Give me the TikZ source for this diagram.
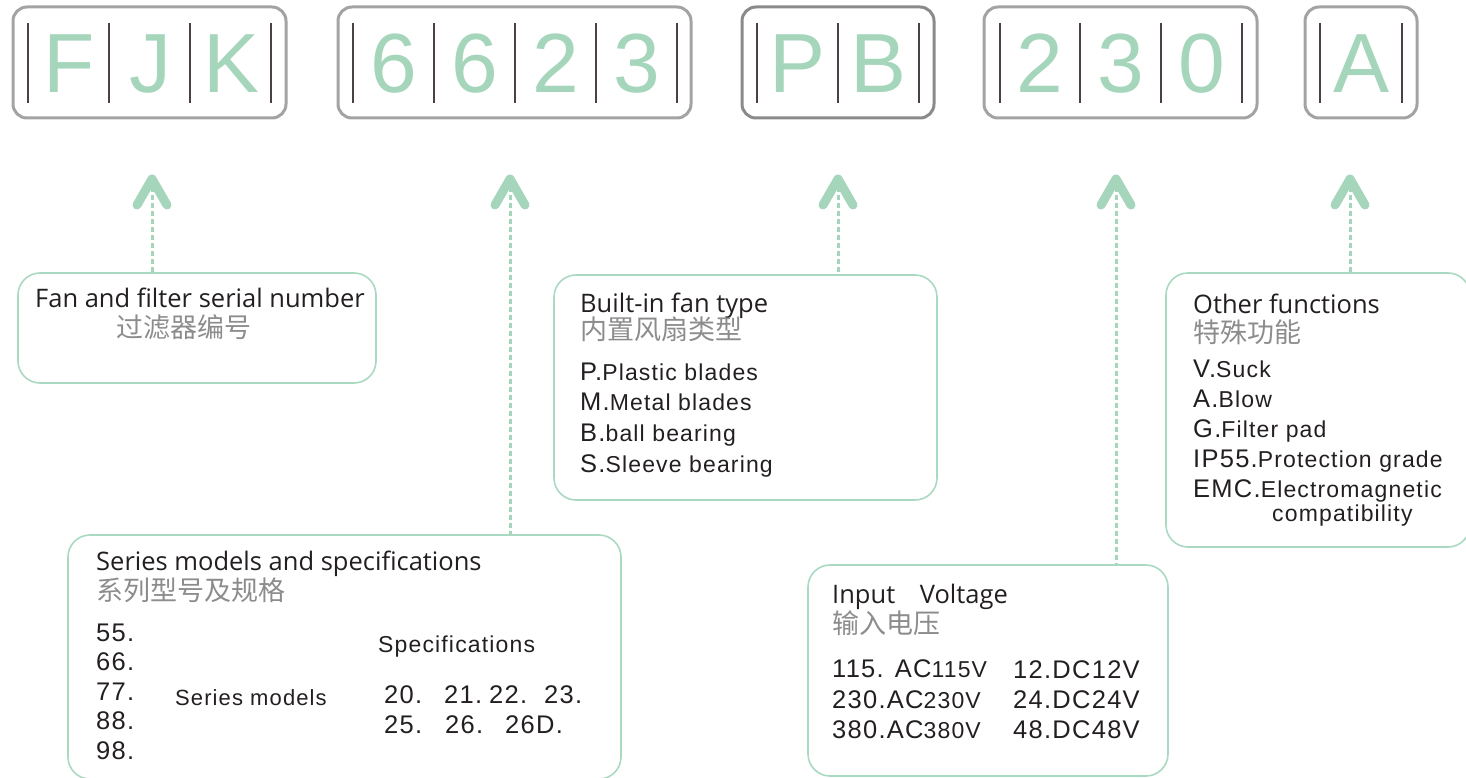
\documentclass[tikz,border=0pt]{standalone}
\usepackage{fontspec}
\setmainfont{Liberation Sans}
\newfontfamily\headfont{Open Sans}
\newfontfamily\cjkfont{Noto Sans CJK SC}
\newfontfamily\itemfont[LetterSpace=5]{Liberation Sans}
\definecolor{codegreen}{HTML}{A5D6BB}
\definecolor{linegreen}{HTML}{A9D9C1}
\definecolor{boxgray}{HTML}{A3A3A3}
\definecolor{boxdark}{HTML}{8A8A8A}
\definecolor{bardark}{HTML}{4A4242}
\definecolor{textdark}{HTML}{231F20}
\definecolor{cjkgray}{HTML}{8C8C8C}
% big code letter + smaller explanation
\newcommand\itm[2]{{\fontsize{25.5}{28}\selectfont #1}{\fontsize{23}{28}\selectfont #2}}

\begin{document}
\begin{tikzpicture}[x=1pt, y=-1pt,
    codebox/.style={draw=boxgray, line width=3pt, rounded corners=14pt},
    divider/.style={draw=bardark, line width=1.3pt},
    codechar/.style={text=codegreen, font=\fontsize{84}{84}\selectfont, inner sep=0pt, anchor=base},
    pointer/.style={draw=codegreen, line width=9pt, line cap=round, line join=round},
    leader/.style={draw=codegreen, line width=3pt, dash pattern=on 5pt off 3pt},
    infobox/.style={draw=linegreen, line width=1.6pt, rounded corners=22pt, inner sep=0pt},
    head/.style={font=\headfont\fontsize{25.5}{28}\selectfont, text=textdark, anchor=base west, inner sep=0pt},
    cn/.style={font=\cjkfont\fontsize{27}{30}\selectfont, text=cjkgray, anchor=base west, inner sep=0pt},
    item/.style={font=\itemfont, text=textdark, anchor=base west, inner sep=0pt}]

    \useasboundingbox (0,0) rectangle (1466,778);

    % =================================================================
    % PART 1: CODE BOXES  FJK | 6623 | PB | 230 | A
    % =================================================================
    % Outer frames
    \foreach \xl/\xr in {13/286, 338/691, 984/1257, 1305/1417} {
        \draw[codebox] (\xl,7) rectangle (\xr,118);
    }
    \draw[codebox, draw=boxdark] (742,7) rectangle (934,118);

    % Vertical bars inside the frames
    \foreach \x in {28,109,190,271, 353,434,515,596,677, 757,838,919, 1000,1080,1161,1242, 1320,1402} {
        \draw[divider] (\x,23) -- (\x,103);
    }

    % Code characters
    \foreach \c/\x [count=\k] in {F/69.5, J/150.5, K/231.5, 6/393.5, 6/474.5, 2/555.5, 3/636.5,
                                  P/797.5, B/878.5, 2/1040, 3/1120.5, 0/1201.5, A/1361} {
        \node[codechar] (code\k) at (\x,93) {\c};
    }

    % =================================================================
    % PART 2: POINTERS (chevron + dashed leader)
    % =================================================================
    \coordinate (tipFJK) at (152,179);
    \coordinate (tipSize) at (510,179);
    \coordinate (tipFan) at (838,179);
    \coordinate (tipVolt) at (1116,179);
    \coordinate (tipFunc) at (1350,179);

    \foreach \t in {tipFJK, tipSize, tipFan, tipVolt, tipFunc} {
        \draw[pointer] ([shift={(-15,26)}]\t) -- (\t) -- ([shift={(15,26)}]\t);
    }

    % =================================================================
    % PART 3: EXPLANATION BOXES
    % =================================================================
    \node[infobox, minimum width=358, minimum height=110] (serialbox) at (197,328) {};
    \node[infobox, minimum width=383, minimum height=225] (fanbox) at (745.5,387.5) {};
    \node[infobox, minimum width=304, minimum height=274] (funcbox) at (1318,410) {};
    \node[infobox, minimum width=553, minimum height=244] (seriesbox) at (344.5,657) {};
    \node[infobox, minimum width=360, minimum height=211] (voltbox) at (988,670.5) {};

    % Dashed leaders from the chevrons down to the boxes
    \draw[leader] (tipFJK) -- (tipFJK |- serialbox.north);
    \draw[leader] (tipSize) -- (tipSize |- seriesbox.north);
    \draw[leader] (tipFan) -- (tipFan |- fanbox.north);
    \draw[leader] (tipVolt) -- (tipVolt |- voltbox.north);
    \draw[leader] (tipFunc) -- (tipFunc |- funcbox.north);

    % Serial number
    \node[head] (serialhead) at (35,307) {Fan and filter serial number};
    \node[cn] (serialcn) at (116,337) {过滤器编号};

    % Built-in fan type
    \node[head] (fanhead) at (580,312) {Built-in fan type};
    \node[cn] (fancn) at (580,339) {内置风扇类型};
    \foreach \a/\b [count=\k] in {P./Plastic blades, M./Metal blades, B./ball bearing, S./Sleeve bearing} {
        \node[item] (fanitem\k) at (580,{380+30.7*(\k-1)}) {\itm{\a}{\b}};
    }

    % Other functions
    \node[head] (funchead) at (1193,313) {Other functions};
    \node[cn] (funccn) at (1193,342) {特殊功能};
    \foreach \a/\b [count=\k] in {V./Suck, A./Blow, G./Filter pad, IP55./Protection grade, EMC./Electromagnetic} {
        \node[item] (funcitem\k) at (1193,{377+30*(\k-1)}) {\itm{\a}{\b}};
    }
    \node[item, font=\itemfont\fontsize{23}{28}\selectfont] (funcitem6) at (1272,521) {compatibility};

    % Series models and specifications
    \node[head] (serieshead) at (96,570) {Series models and specifications};
    \node[cn] (seriescn) at (96,600) {系列型号及规格};
    \foreach \n [count=\k] in {55,66,77,88,98} {
        \node[item, font=\itemfont\fontsize{25.5}{28}\selectfont] (model\n) at (96,{641+29.5*(\k-1)}) {\n.};
    }
    \node[item, font=\itemfont\fontsize{22}{28}\selectfont] (modellabel) at (175,705) {Series models};
    \node[item, font=\itemfont\fontsize{23}{28}\selectfont] (speclabel) at (378,652) {Specifications};
    \foreach \n/\x/\y in {20/384/703, 21/444/703, 22/489/703, 23/544/703, 25/384/733, 26/445/733, 26D/505/733} {
        \node[item, font=\itemfont\fontsize{25.5}{28}\selectfont] (spec\n) at (\x,\y) {\n.};
    }

    % Input voltage
    \node[head] (volthead) at (832,603) {Input\hspace{18pt} Voltage};
    \node[cn] (voltcn) at (832,633) {输入电压};
    \node[item] (ac115) at (832,677) {\itm{115. AC}{115V}};
    \node[item] (ac230) at (832,708) {\itm{230.AC}{230V}};
    \node[item] (ac380) at (832,738) {\itm{380.AC}{380V}};
    \foreach \n/\y in {12/678, 24/708, 48/738} {
        \node[item, font=\itemfont\fontsize{25.5}{28}\selectfont] (dc\n) at (1013,\y) {\n.DC\n V};
    }

\end{tikzpicture}
\end{document}
